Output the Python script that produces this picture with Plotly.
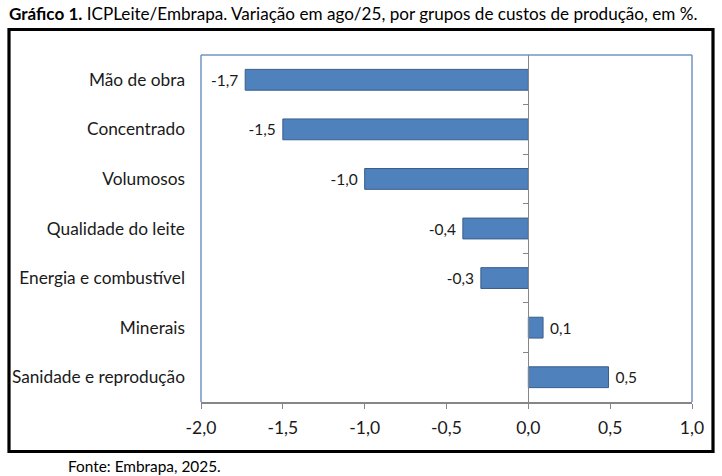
import plotly.graph_objects as go

categories = ["Mão de obra", "Concentrado", "Volumosos", "Qualidade do leite",
              "Energia e combustível", "Minerais", "Sanidade e reprodução"]
values = [-1.73, -1.50, -1.00, -0.40, -0.29, 0.09, 0.49]
x_tick_vals = [-2.0, -1.5, -1.0, -0.5, 0.0, 0.5, 1.0]
x_tick_labels = ["-2,0", "-1,5", "-1,0", "-0,5", "0,0", "0,5", "1,0"]

NB = "\u00a0"
bar_labels = [(f"{v:.1f}".replace(".", ",") + NB) if v < 0 else (NB + f"{v:.1f}".replace(".", ","))
              for v in values]

FONT = "Lato"
GRAY = "#868686"
TXT = "#1a1a1a"

fig = go.Figure()
fig.add_trace(go.Bar(
    x=values, y=categories, orientation="h",
    marker=dict(color="#4F81BD", line=dict(color="#385D8A", width=1)),
    width=0.42,
    text=bar_labels, textposition="outside", cliponaxis=False,
    textfont=dict(family=FONT, size=15.5, color=TXT),
    hoverinfo="skip", showlegend=False,
))
# invisible helper on the secondary axis (category tick marks at zero)
fig.add_trace(go.Scatter(x=[None], y=[None], yaxis="y2", showlegend=False, hoverinfo="skip"))

L, R, T, B = 201, 30, 55, 74
W, H = 722, 476
pw = W - L - R
ph = H - T - B

def px_x(p):
    return (p - L) / pw

def px_y(p):
    return 1 - (p - T) / ph

fig.update_layout(
    width=W, height=H,
    margin=dict(l=L, r=R, t=T, b=B),
    paper_bgcolor="white", plot_bgcolor="white",
    xaxis=dict(range=[-2, 1], tickvals=x_tick_vals, ticktext=x_tick_labels,
               ticks="outside", ticklen=5, tickcolor=GRAY, tickwidth=1.3,
               showline=True, linecolor=GRAY, linewidth=1.5,
               showgrid=False, zeroline=False,
               tickfont=dict(family=FONT, size=17.5, color=TXT),
               ticklabelstandoff=4),
    yaxis=dict(autorange="reversed", showgrid=False, zeroline=False, ticks="",
               showline=False,
               tickfont=dict(family=FONT, size=17.3, color=TXT),
               ticklabelstandoff=15),
    yaxis2=dict(overlaying="y", anchor="free", position=2/3, side="left",
                range=[6.5, -0.5], tickvals=[0.5, 1.5, 2.5, 3.5, 4.5, 5.5],
                ticks="outside", ticklen=5, tickcolor=GRAY, tickwidth=1.3,
                showticklabels=False, showgrid=False, zeroline=False,
                showline=True, linecolor=GRAY, linewidth=1.3),
    font=dict(family=FONT),
)

# blue plot-area frame (left, top, right)
blue = "#6F94C4"
for x0, y0, x1, y1 in [(0, 0, 0, 1), (0, 1, 1, 1), (1, 0, 1, 1)]:
    fig.add_shape(type="line", xref="paper", yref="paper", x0=x0, y0=y0, x1=x1, y1=y1,
                  line=dict(color=blue, width=1.5), layer="below")

# outer black frame
fig.add_shape(type="rect", xref="paper", yref="paper",
              x0=px_x(9), x1=px_x(713), y0=px_y(451.5), y1=px_y(29.5),
              line=dict(color="black", width=3.2), fillcolor="rgba(0,0,0,0)")

fig.add_annotation(xref="paper", yref="paper", x=px_x(7), y=px_y(14),
                   xanchor="left", yanchor="middle", showarrow=False,
                   text="<b>Gráfico 1.</b> ICPLeite/Embrapa. Variação em ago/25, por grupos de custos de produção, em %.",
                   font=dict(family=FONT, size=17.1, color="black"))
fig.add_annotation(xref="paper", yref="paper", x=px_x(66), y=px_y(466),
                   xanchor="left", yanchor="middle", showarrow=False,
                   text="Fonte: Embrapa, 2025.",
                   font=dict(family=FONT, size=15.4, color="black"))

fig.write_html("out.html", config={"displayModeBar": False},
               post_script="document.body.style.margin='0';document.body.style.overflow='hidden';")
